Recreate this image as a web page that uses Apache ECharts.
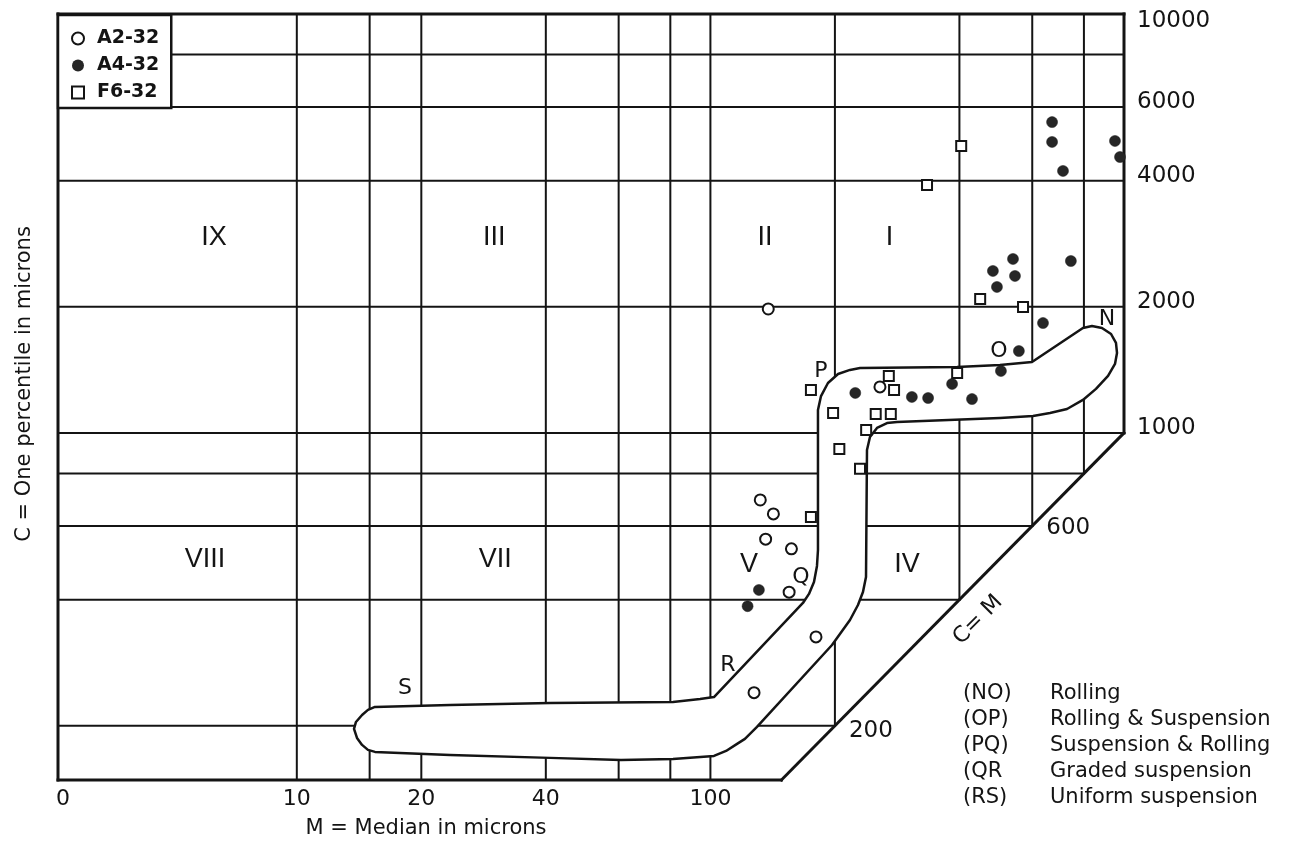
<!DOCTYPE html>
<html>
<head>
<meta charset="utf-8">
<script src="https://cdn.jsdelivr.net/npm/echarts@6/dist/echarts.min.js"></script>
<style>html,body{margin:0;padding:0;background:#fff}#chart{width:1298px;height:841px}</style>
</head>
<body>
<div id="chart"></div>
<script>
// ---------------- DATA ----------------
const xMin = 2.646, xMax = 1000;      // M (median, microns), log scale
const yMin = 148.5, yMax = 10000;     // C (one percentile, microns), log scale

const seriesNames = ['A2-32', 'A4-32', 'F6-32'];

// A2-32 (open circles)
const a2M = [138, 257, 132, 142, 136, 157, 155, 180, 127.5];
const a2C = [1977, 1288, 692, 641, 558, 529, 417, 326, 240];

// A4-32 (filled circles)
const a4M = [670, 670, 712, 951, 978, 539, 482, 545, 493, 744, 637, 557, 504, 224, 307, 336, 384, 429, 131, 123];
const a4C = [5520, 4950, 4221, 4977, 4557, 2602, 2436, 2370, 2231, 2573, 1830, 1569, 1406, 1246, 1219, 1212, 1309, 1205, 422, 386];

// F6-32 (open squares)
const f6M = [404, 334, 449, 570, 395, 270, 278, 175, 198, 251, 273, 238, 205, 230, 175];
const f6C = [4842, 3908, 2088, 1999, 1391, 1368, 1266, 1266, 1116, 1110, 1110, 1017, 916, 821, 630];

// grid line values
const hLines = [8000, 6000, 4000, 2000, 1000, 800, 600, 400, 200];
const vLines = [10, 15, 20, 40, 60, 80, 100, 200, 400, 600, 800];

// tick labels
const cTicks = [10000, 6000, 4000, 2000, 1000];
const cTicksDiag = [600, 200];
const mTickValues = [xMin, 10, 20, 40, 100];
const mTickLabels = ['0', '10', '20', '40', '100'];

// NOPQRS band outline (M, C)
const bandM = [13.75, 13.90, 14.38, 14.86, 15.45, 23.47, 40.95, 81.2, 94.4, 102.0,
  167.4, 173.1, 178.0, 181.0, 182.0, 182.0, 185.1, 192.4, 203.5, 217.5, 230.0,
  394.7, 501.3, 599.1, 795.6, 836.6, 884.5, 930.5, 956.3, 961.8, 951.1, 915.0, 855.5, 795.6,
  728.1, 662.3, 602.6, 501.3, 282.6, 267.3, 252.8, 243.1, 239.1, 237.8, 233.8, 227.4, 217.5, 196.8,
  129.6, 121.2, 116.0, 109.1, 102.0, 81.2, 60.78, 40.95, 23.47, 15.45, 14.86, 14.38, 13.98];
const bandC = [196.6, 204.3, 212.3, 218.3, 221.9, 224.3, 226.7, 228.0, 231.8, 234.3,
  392.9, 412.9, 441.0, 481.6, 525.7, 1135, 1225, 1316, 1383, 1414, 1429,
  1437, 1453, 1477, 1781, 1800, 1781, 1723, 1640, 1552, 1461, 1368, 1274, 1199,
  1141, 1116, 1098, 1086, 1062, 1056, 1028, 978.3, 911.0, 453.3, 417.4, 388.6, 357.8, 311.9,
  198.8, 186.1, 181.1, 174.2, 169.5, 166.7, 165.8, 167.7, 170.4, 173.3, 175.2, 180.1, 187.1];

// region numerals
const regionText = ['IX', 'III', 'II', 'I', 'VIII', 'VII', 'V', 'IV'];
const regionM = [6.31, 30.0, 135.5, 271, 6.0, 30.2, 124.0, 298.8];
const regionC = [2920, 2920, 2920, 2920, 497.7, 497.7, 484.2, 484.2];

// band letters
const letterText = ['N', 'O', 'P', 'Q', 'R', 'S'];
const letterM = [909.7, 498.5, 185.1, 165.6, 110.3, 18.26];
const letterC = [1871, 1569, 1406, 453.3, 279.5, 246.3];

const diagLabel = 'C= M';
const diagLabelM = 443.6, diagLabelC = 357.8;

// notes
const noteCodes = ['(NO)', '(OP)', '(PQ)', '(QR', '(RS)'];
const noteTexts = ['Rolling', 'Rolling & Suspension', 'Suspension & Rolling', 'Graded suspension', 'Uniform suspension'];

const xTitle = 'M = Median in microns';
const yTitle = 'C = One percentile in microns';

// ---------------- CHART ----------------
const INK = '#141414';
const FONT = 'DejaVu Sans';
const chart = echarts.init(document.getElementById('chart'), null, {renderer: 'canvas'});

const gridSegs = [];
hLines.forEach(v => gridSegs.push([xMin, v, Math.min(v, xMax), v]));
vLines.forEach(v => gridSegs.push([v, yMax, v, Math.max(v, yMin)]));
const borderSegs = [
  [xMin, yMax, xMax, yMax],
  [xMin, yMin, xMin, yMax],
  [xMax, yMax, xMax, xMax],
  [xMin, yMin, yMin, yMin],
  [yMin, yMin, xMax, xMax]
];

function segRenderer(width) {
  return function (params, api) {
    const p1 = api.coord([api.value(0), api.value(1)]);
    const p2 = api.coord([api.value(2), api.value(3)]);
    return {type: 'line', shape: {x1: p1[0], y1: p1[1], x2: p2[0], y2: p2[1]},
      style: {stroke: INK, lineWidth: width, lineCap: 'square'}};
  };
}

const zip = (a, b) => a.map((v, i) => [v, b[i]]);

const noteGraphics = [];
noteCodes.forEach((t, i) => {
  noteGraphics.push({type: 'text', x: 963, y: 694 + i * 26,
    style: {text: t, fontSize: 21, fontFamily: FONT, fill: INK, verticalAlign: 'middle', align: 'left'}});
  noteGraphics.push({type: 'text', x: 1050, y: 694 + i * 26,
    style: {text: noteTexts[i], fontSize: 21, fontFamily: FONT, fill: INK, verticalAlign: 'middle', align: 'left'}});
});

const textSeriesBase = {type: 'scatter', z: 6, silent: true, symbolSize: 0, itemStyle: {opacity: 1}};

const option = {
  animation: false,
  backgroundColor: '#fff',
  grid: {left: 58, top: 14, width: 1066, height: 766, show: false},
  xAxis: {type: 'log', logBase: 10, min: xMin, max: xMax,
    axisLine: {show: false}, axisTick: {show: false}, axisLabel: {show: false}, splitLine: {show: false}},
  yAxis: {type: 'log', logBase: 10, min: yMin, max: yMax,
    axisLine: {show: false}, axisTick: {show: false}, axisLabel: {show: false}, splitLine: {show: false}},
  legend: {
    orient: 'vertical', left: 58, top: 15,
    padding: [14, 12, 6, 13], itemGap: 8, itemWidth: 12, itemHeight: 12,
    backgroundColor: '#fff', borderColor: INK, borderWidth: 2.5, borderRadius: 0,
    textStyle: {fontSize: 19, fontFamily: FONT, color: INK, fontWeight: 'bold', padding: [0, 0, 0, 8]},
    data: [
      {name: seriesNames[0], icon: 'circle', itemStyle: {color: '#fff', borderColor: INK, borderWidth: 2, opacity: 1}},
      {name: seriesNames[1], icon: 'circle', itemStyle: {color: '#262626', borderColor: '#262626', borderWidth: 0, opacity: 1}},
      {name: seriesNames[2], icon: 'rect', itemStyle: {color: '#fff', borderColor: INK, borderWidth: 2, opacity: 1}}
    ],
    selectedMode: false
  },
  graphic: [
    {type: 'text', x: 426, y: 829, style: {text: xTitle, fontSize: 21, fontFamily: FONT, fill: INK, align: 'center', verticalAlign: 'middle'}},
    {type: 'text', x: 25, y: 384, rotation: Math.PI / 2,
      style: {text: yTitle, fontSize: 21, fontFamily: FONT, fill: INK, align: 'center', verticalAlign: 'middle'}}
  ].concat(noteGraphics),
  series: [
    {type: 'custom', name: 'gridlines', z: 1, silent: true, renderItem: segRenderer(2), data: gridSegs},
    {type: 'custom', name: 'border', z: 1, silent: true, renderItem: segRenderer(3), data: borderSegs},
    {type: 'custom', name: 'band', z: 2, silent: true,
      renderItem: function (params, api) {
        const pts = bandM.map((m, i) => api.coord([m, bandC[i]]));
        return {type: 'polygon', shape: {points: pts}, style: {fill: '#fff', stroke: INK, lineWidth: 2.5, lineJoin: 'round'}};
      },
      data: [[bandM[0], bandC[0]]]},
    {type: 'scatter', name: seriesNames[0], z: 5, symbol: 'circle', symbolSize: 11,
      itemStyle: {color: '#fff', borderColor: INK, borderWidth: 2, opacity: 1}, data: zip(a2M, a2C)},
    {type: 'scatter', name: seriesNames[1], z: 5, symbol: 'circle', symbolSize: 11,
      itemStyle: {color: '#262626', borderColor: '#1a1a1a', borderWidth: 0.5, opacity: 1}, data: zip(a4M, a4C)},
    {type: 'scatter', name: seriesNames[2], z: 5, symbol: 'rect', symbolSize: 10,
      itemStyle: {color: '#fff', borderColor: INK, borderWidth: 2, opacity: 1}, data: zip(f6M, f6C)},
    // region numerals
    Object.assign({}, textSeriesBase, {name: 'regions',
      label: {show: true, position: 'inside', formatter: '{b}', fontSize: 27, fontFamily: 'Liberation Sans', color: INK},
      data: regionText.map((t, i) => ({name: t, value: [regionM[i], regionC[i]]}))}),
    // letters
    Object.assign({}, textSeriesBase, {name: 'letters',
      label: {show: true, position: 'inside', formatter: '{b}', fontSize: 22, fontFamily: FONT, color: INK},
      data: letterText.map((t, i) => ({name: t, value: [letterM[i], letterC[i]]}))
        .concat([{name: diagLabel, value: [diagLabelM, diagLabelC], label: {rotate: 45, fontSize: 22}}])}),
    // right C tick labels
    Object.assign({}, textSeriesBase, {name: 'cticks',
      label: {show: true, position: 'right', distance: 13, formatter: '{b}', fontSize: 23, fontFamily: FONT, color: INK},
      data: cTicks.map(v => ({name: String(v), value: [xMax, v], label: {offset: [0, v === 10000 ? 7 : -5]}}))}),
    // diagonal tick labels
    Object.assign({}, textSeriesBase, {name: 'cdiag',
      label: {show: true, position: 'right', distance: 14, formatter: '{b}', fontSize: 23, fontFamily: FONT, color: INK},
      data: cTicksDiag.map(v => ({name: String(v), value: [v, v], label: {offset: [0, v === 200 ? 5 : 2]}}))}),
    // M tick labels
    Object.assign({}, textSeriesBase, {name: 'mticks',
      label: {show: true, position: 'bottom', distance: 8, formatter: '{b}', fontSize: 22, fontFamily: FONT, color: INK},
      data: mTickValues.map((v, i) => ({name: mTickLabels[i], value: [v, yMin], label: i === 0 ? {offset: [5, 0]} : {}}))})
  ]
};
chart.setOption(option);
</script>
</body>
</html>
